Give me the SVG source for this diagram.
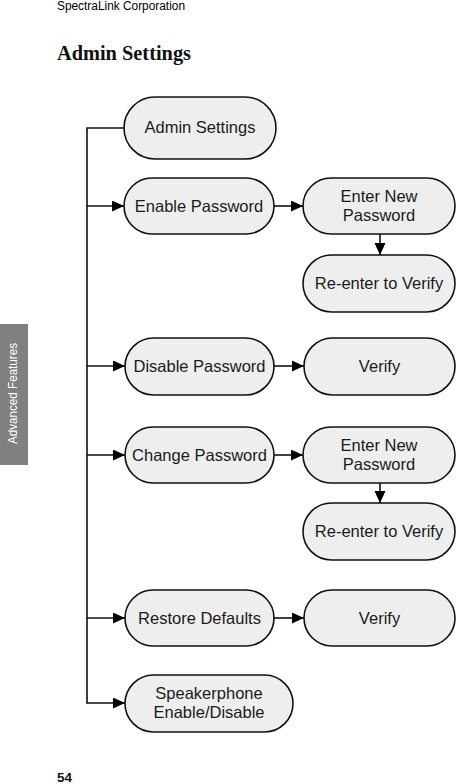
<svg xmlns="http://www.w3.org/2000/svg" width="457" height="784" viewBox="0 0 457 784">
<style>
.n{fill:#eeeeee;stroke:#111;stroke-width:1.6}
.t{font-family:"Liberation Sans",Arial,sans-serif;font-size:16.5px;fill:#1a1a1a;text-anchor:middle}
.c{fill:none;stroke:#111;stroke-width:1.6}
</style>
<defs>
<marker id="ah" markerUnits="userSpaceOnUse" markerWidth="13" markerHeight="12" refX="12" refY="5.5" orient="auto">
<path d="M0,0 L12,5.5 L0,11 z" fill="#000"/>
</marker>
</defs>
<rect width="457" height="784" fill="#fff"/>
<text x="57" y="10" font-family="'Liberation Sans Narrow','Liberation Sans',sans-serif" font-size="12.5" textLength="128" lengthAdjust="spacingAndGlyphs" fill="#000">SpectraLink Corporation</text>
<text x="57" y="60" font-family="'Liberation Serif',serif" font-size="21" font-weight="bold" textLength="134" lengthAdjust="spacingAndGlyphs" fill="#111">Admin Settings</text>
<rect x="0" y="324" width="28" height="141" fill="#808080"/>
<text transform="translate(16.5,393.5) rotate(-90)" text-anchor="middle" font-family="'Liberation Sans Narrow','Liberation Sans',sans-serif" font-size="12" textLength="101" lengthAdjust="spacingAndGlyphs" fill="#fff">Advanced Features</text>
<text x="57" y="781.5" font-family="'Liberation Sans Narrow','Liberation Sans',sans-serif" font-size="13" font-weight="bold" textLength="15" lengthAdjust="spacingAndGlyphs" fill="#111">54</text>
<g id="connectors">
<path class="c" d="M124,128 H87 V703"/>
<line class="c" x1="87" y1="206" x2="124" y2="206" marker-end="url(#ah)"/>
<line class="c" x1="274" y1="206" x2="303" y2="206" marker-end="url(#ah)"/>
<line class="c" x1="380" y1="234" x2="380" y2="255" marker-end="url(#ah)"/>
<line class="c" x1="87" y1="366" x2="125" y2="366" marker-end="url(#ah)"/>
<line class="c" x1="274" y1="366" x2="304" y2="366" marker-end="url(#ah)"/>
<line class="c" x1="87" y1="455" x2="125" y2="455" marker-end="url(#ah)"/>
<line class="c" x1="274" y1="455" x2="303" y2="455" marker-end="url(#ah)"/>
<line class="c" x1="380" y1="483" x2="380" y2="503" marker-end="url(#ah)"/>
<line class="c" x1="87" y1="618" x2="125" y2="618" marker-end="url(#ah)"/>
<line class="c" x1="274" y1="618" x2="304" y2="618" marker-end="url(#ah)"/>
<line class="c" x1="86.2" y1="703" x2="125" y2="703" marker-end="url(#ah)"/>
</g>
<g id="admin"><rect class="n" x="124" y="97" width="152" height="62" rx="31"/><text class="t" x="200" y="133">Admin Settings</text></g>
<g id="enable"><rect class="n" x="124" y="178" width="150" height="56" rx="28"/><text class="t" x="199" y="211.5">Enable Password</text></g>
<g id="enter1"><rect class="n" x="303" y="178" width="152" height="56" rx="28"/><text class="t" x="379" y="202">Enter New</text><text class="t" x="379" y="221">Password</text></g>
<g id="reenter1"><rect class="n" x="303" y="255" width="152" height="57" rx="28.5"/><text class="t" x="379" y="289">Re-enter to Verify</text></g>
<g id="disable"><rect class="n" x="125" y="338" width="149" height="57" rx="28.5"/><text class="t" x="199.5" y="372">Disable Password</text></g>
<g id="verify1"><rect class="n" x="304" y="338" width="151" height="57" rx="28.5"/><text class="t" x="379.5" y="372">Verify</text></g>
<g id="change"><rect class="n" x="125" y="427" width="149" height="56" rx="28"/><text class="t" x="199.5" y="460.5">Change Password</text></g>
<g id="enter2"><rect class="n" x="303" y="427" width="152" height="56" rx="28"/><text class="t" x="379" y="451">Enter New</text><text class="t" x="379" y="470">Password</text></g>
<g id="reenter2"><rect class="n" x="303" y="503" width="152" height="57" rx="28.5"/><text class="t" x="379" y="537">Re-enter to Verify</text></g>
<g id="restore"><rect class="n" x="125" y="590" width="149" height="56" rx="28"/><text class="t" x="199.5" y="623.5">Restore Defaults</text></g>
<g id="verify2"><rect class="n" x="304" y="590" width="151" height="56" rx="28"/><text class="t" x="379.5" y="623.5">Verify</text></g>
<g id="speaker"><rect class="n" x="125" y="675" width="168" height="57" rx="28.5"/><text class="t" x="209" y="699">Speakerphone</text><text class="t" x="209" y="718">Enable/Disable</text></g>
</svg>
